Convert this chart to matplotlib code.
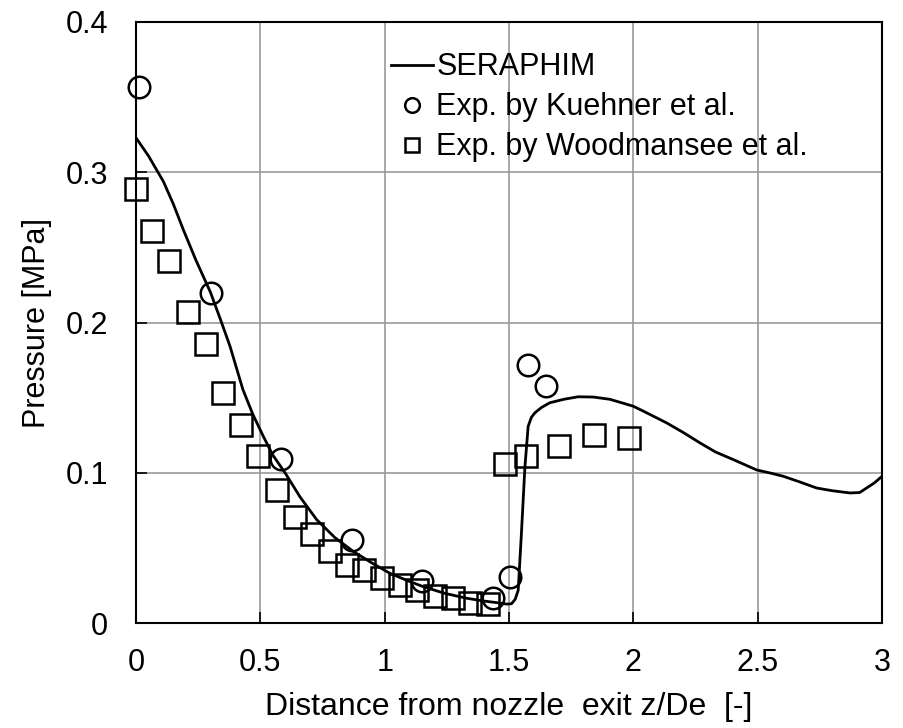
import matplotlib.pyplot as plt

plt.rcParams['font.family'] = ['Liberation Sans', 'DejaVu Sans']

# SERAPHIM simulation
sim_x = [0.0, 0.05, 0.11, 0.15, 0.19, 0.24, 0.30, 0.34, 0.378, 0.43, 0.47,
         0.512, 0.55, 0.60, 0.66, 0.727, 0.80, 0.874, 0.95, 1.021, 1.09,
         1.155, 1.24, 1.329, 1.40, 1.463, 1.49, 1.51, 1.525, 1.537, 1.55,
         1.564, 1.577, 1.59, 1.604, 1.63, 1.664, 1.72, 1.778, 1.84, 1.906,
         2.0, 2.06, 2.134, 2.2, 2.268, 2.33, 2.402, 2.496, 2.55, 2.603,
         2.67, 2.737, 2.80, 2.871, 2.91, 2.938, 2.97, 3.0]
sim_p = [0.323, 0.311, 0.294, 0.279, 0.262, 0.242, 0.22, 0.202, 0.1844,
         0.1555, 0.1390, 0.1244, 0.1120, 0.100, 0.0840, 0.0689, 0.0570,
         0.0478, 0.0400, 0.0333, 0.0285, 0.0244, 0.0200, 0.0167, 0.0148,
         0.0135, 0.0128, 0.013, 0.016, 0.022, 0.06, 0.104, 0.131, 0.137,
         0.140, 0.1435, 0.1467, 0.149, 0.1507, 0.1505, 0.149, 0.1444,
         0.1395, 0.1333, 0.127, 0.120, 0.114, 0.1089, 0.102, 0.1000,
         0.0978, 0.094, 0.090, 0.0882, 0.0867, 0.087, 0.090, 0.0935, 0.0978]

# Kuehner et al.
kue_x = [0.013, 0.30, 0.583, 0.869, 1.149, 1.437, 1.506, 1.577, 1.647]
kue_p = [0.357, 0.22, 0.109, 0.0555, 0.0284, 0.0167, 0.031, 0.172, 0.158]

# Woodmansee et al.
woo_x = [0.0, 0.066, 0.134, 0.21, 0.281, 0.351, 0.421, 0.492, 0.568, 0.639,
         0.709, 0.780, 0.847, 0.918, 0.991, 1.061, 1.131, 1.202, 1.273,
         1.343, 1.414, 1.483, 1.567, 1.702, 1.843, 1.984]
woo_p = [0.289, 0.261, 0.241, 0.207, 0.186, 0.153, 0.132, 0.111, 0.089,
         0.0707, 0.0593, 0.0484, 0.0389, 0.0355, 0.030, 0.0255, 0.0222,
         0.0182, 0.0167, 0.0137, 0.0129, 0.106, 0.111, 0.118, 0.125, 0.123]

fig = plt.figure(figsize=(9.04, 7.28), dpi=100)
ax = fig.add_axes([0.1504, 0.1438, 0.8253, 0.826])

ax.plot(sim_x, sim_p, color='black', lw=2, label='SERAPHIM', zorder=3)
ax.plot(kue_x, kue_p, 'o', mfc='none', mec='black', ms=15.5, mew=1.8,
        label='Exp. by Kuehner et al.', zorder=4, clip_on=False)
ax.plot(woo_x, woo_p, 's', mfc='none', mec='black', ms=15.5, mew=1.8,
        label='Exp. by Woodmansee et al.', zorder=4, clip_on=False)

ax.set_xlim(0, 3)
ax.set_ylim(0, 0.4)
ax.set_xticks([0, 0.5, 1, 1.5, 2, 2.5, 3])
ax.set_xticklabels(['0', '0.5', '1', '1.5', '2', '2.5', '3'])
ax.set_yticks([0, 0.1, 0.2, 0.3, 0.4])
ax.set_yticklabels(['0', '0.1', '0.2', '0.3', '0.4'])
ax.tick_params(direction='in', length=8, width=1.2, labelsize=22)
ax.tick_params(axis='x', pad=18)
ax.tick_params(axis='y', pad=20)
ax.grid(True, color='#999999', lw=1.2)
ax.set_axisbelow(True)
for s in ax.spines.values():
    s.set_linewidth(1.5)

ax.set_xlabel('Distance from nozzle  exit z/De  [-]', fontsize=23, labelpad=10)
ax.set_ylabel('Pressure [MPa]', fontsize=22, labelpad=10)

ax.legend(loc='upper left', bbox_to_anchor=(0.325, 0.97), frameon=False,
          fontsize=22, markerscale=0.68, handlelength=1.4, handletextpad=0.1,
          labelspacing=0.33, borderaxespad=0)

fig.savefig('out.png', dpi=100)
